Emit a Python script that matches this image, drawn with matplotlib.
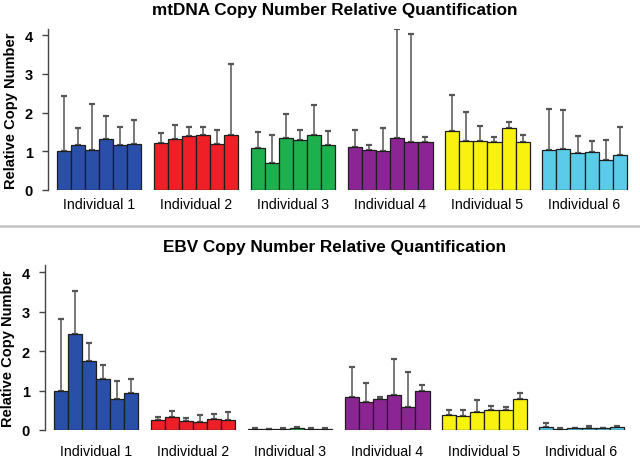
import matplotlib
matplotlib.use('Agg')
import matplotlib.pyplot as plt
from matplotlib.lines import Line2D
import numpy as np

plt.rcParams['font.family'] = ['Liberation Sans', 'DejaVu Sans']

groups = ['Individual 1', 'Individual 2', 'Individual 3',
          'Individual 4', 'Individual 5', 'Individual 6']
colors = ['#2a4fa8', '#ee1f26', '#1eb04c', '#8b2594', '#f8f20e', '#5bcbea']

# mtDNA relative copy number (6 samples per individual) and upper error
mt_vals = [
    [1.00, 1.16, 1.03, 1.32, 1.15, 1.19],
    [1.22, 1.32, 1.39, 1.41, 1.19, 1.42],
    [1.09, 0.69, 1.34, 1.30, 1.41, 1.16],
    [1.12, 1.03, 1.01, 1.35, 1.25, 1.23],
    [1.52, 1.27, 1.27, 1.24, 1.59, 1.23],
    [1.03, 1.06, 0.95, 0.99, 0.77, 0.91],
]
mt_err = [
    [1.42, 0.43, 1.18, 0.58, 0.48, 0.62],
    [0.26, 0.36, 0.23, 0.23, 0.37, 1.84],
    [0.40, 0.73, 0.63, 0.25, 0.79, 0.36],
    [0.43, 0.13, 0.58, 2.80, 2.78, 0.15],
    [0.93, 0.75, 0.39, 0.14, 0.18, 0.19],
    [1.06, 1.01, 0.44, 0.27, 0.52, 0.72],
]

# EBV relative copy number and upper error
ebv_vals = [
    [1.00, 2.43, 1.74, 1.30, 0.79, 0.93],
    [0.26, 0.34, 0.24, 0.21, 0.29, 0.26],
    [0.03, 0.02, 0.03, 0.05, 0.03, 0.03],
    [0.85, 0.70, 0.78, 0.90, 0.59, 0.98],
    [0.39, 0.36, 0.46, 0.52, 0.52, 0.78],
    [0.07, 0.03, 0.04, 0.06, 0.04, 0.07],
]
ebv_err = [
    [1.81, 1.10, 0.46, 0.34, 0.45, 0.37],
    [0.08, 0.13, 0.07, 0.16, 0.12, 0.19],
    [0.01, 0.01, 0.01, 0.02, 0.01, 0.01],
    [0.76, 0.50, 0.05, 0.90, 0.89, 0.16],
    [0.13, 0.16, 0.29, 0.09, 0.06, 0.15],
    [0.10, 0.01, 0.02, 0.03, 0.02, 0.02],
]

W, H = 640, 464
fig = plt.figure(figsize=(6.4, 4.64), dpi=100)

stride = 6.92  # group stride in bar widths


def panel(rect, vals, errs, title, ymax, title_y, label_y):
    ax = fig.add_axes(rect)
    for g, (v, e) in enumerate(zip(vals, errs)):
        x = g * stride + np.arange(6) + 0.5
        ax.bar(x, v, width=1.0, color=colors[g], edgecolor='#1e1e1e',
               linewidth=0.9, zorder=2)
        ax.errorbar(x, v, yerr=[np.zeros(6), e], fmt='none', ecolor='#555555',
                    elinewidth=1.1, capsize=2, capthick=1.6, zorder=1)
        ax.text(g * stride + 3, label_y, groups[g], ha='center', va='center',
                fontsize=10.2, transform=ax.transData, clip_on=False)
    ax.set_ylim(0, ymax)
    ax.set_xlim(-0.66, 5 * stride + 6 + 0.6)
    ax.set_yticks([0, 1, 2, 3, 4])
    ax.tick_params(axis='y', length=4, width=1, color='#444444', pad=7,
                   labelsize=10.5)
    for lab in ax.get_yticklabels():
        lab.set_fontweight('bold')
    ax.set_xticks([])
    for s in ['top', 'right', 'bottom']:
        ax.spines[s].set_visible(False)
    ax.spines['left'].set_color('#444444')
    ax.spines['left'].set_linewidth(1)
    ax.set_ylabel('Relative Copy Number', fontsize=10.5, fontweight='bold',
                  labelpad=5)
    fig.text(335 / W, 1 - title_y / H, title, ha='center', va='center',
             fontsize=12.3, fontweight='bold')
    return ax


# top: zero at y=191 px, 38.7 px per unit, axis at x=48
panel([48 / W, (H - 191) / H, 587 / W, 4.15 * 38.7 / H], mt_vals, mt_err,
      'mtDNA Copy Number Relative Quantification', 4.15, 10, -0.37)

# bottom: zero at y=431 px, 39.4 px per unit, axis at x=45
panel([45 / W, (H - 431) / H, 587 / W, 4.2 * 39.4 / H], ebv_vals, ebv_err,
      'EBV Copy Number Relative Quantification', 4.2, 248, -0.53)

fig.add_artist(Line2D([0, 1], [1 - 227 / H, 1 - 227 / H], color='#c4c4c4',
                      linewidth=1.8, transform=fig.transFigure))

fig.savefig('out.png', dpi=100)
